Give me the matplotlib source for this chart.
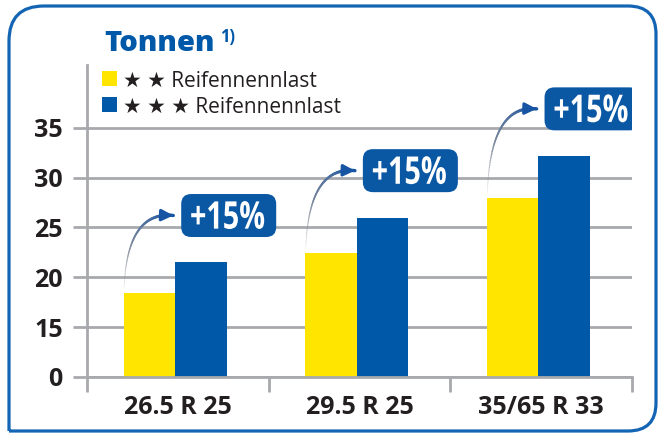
#!/usr/bin/env python
# coding: utf-8
"""
Tragfaehigkeit (Tonnen) zwei Sterne vs. drei Sterne Reifennennlast.
"""
import numpy as np
import matplotlib
matplotlib.use('Agg')
from matplotlib import pyplot as plt
from matplotlib.collections import LineCollection
from matplotlib.path import Path
from matplotlib.patches import PathPatch, Rectangle, FancyBboxPatch
from matplotlib.textpath import TextPath
from matplotlib.font_manager import FontProperties
from matplotlib.transforms import Affine2D, ScaledTranslation


# data
sizes = ['26.5 R 25', '29.5 R 25', '35/65 R 33']
two_star = [18.4, 22.4, 28.0]
three_star = [21.5, 26.0, 32.2]
gain_labels = ['+15%', '+15%', '+15%']
y_ticks = [10, 15, 20, 25, 30, 35]
y_tick_labels = ['0', '15', '20', '25', '30', '35']
legend_labels = ['\u2605 \u2605 Reifennennlast', '\u2605 \u2605 \u2605 Reifennennlast']

YELLOW = '#ffe500'
BLUE = '#0059a8'
BOX_BLUE = '#0a57a4'
GRID = '#a7a9ac'
DARK = '#231f20'
FONT = ['Open Sans', 'DejaVu Sans']

W, H = 658, 438


def curved_arrow(ax, x0, y0, xc, yc, x1, y1):
    """ Tapered arrow going from gray to blue along a quadratic bezier. """
    t = np.linspace(0, 1, 60)
    bx = (1 - t)**2 * x0 + 2 * (1 - t) * t * xc + t**2 * x1
    by = (1 - t)**2 * y0 + 2 * (1 - t) * t * yc + t**2 * y1
    pts = np.column_stack([bx, by])
    segs = np.stack([pts[:-1], pts[1:]], axis=1)
    s = np.linspace(0, 1, len(segs))
    gray = np.array([0.55, 0.56, 0.60])
    blue = np.array([0.09, 0.33, 0.64])
    mix = (s ** 1.6)[:, None]
    rgb = gray * (1 - mix) + blue * mix
    alpha = np.clip(0.15 + s * 2.2, 0, 1)[:, None]
    lc = LineCollection(segs, colors=np.hstack([rgb, alpha]),
                        linewidths=np.linspace(0.5, 2.4, len(segs)),
                        capstyle='round', zorder=4)
    ax.add_collection(lc)
    ax.annotate('', xy=(x1, y1), xytext=(bx[-6], by[-6]),
                arrowprops=dict(arrowstyle='-|>', color=blue, lw=2.2,
                                mutation_scale=17, shrinkA=0, shrinkB=0),
                zorder=5)


def gain_box(ax, x, y, txt, w=95, h=43, tw=73, th=28):
    """ Rounded blue box with narrow white text, sized in pixels around a data point. """
    anchor = ScaledTranslation(x, y, ax.transData)
    box = FancyBboxPatch((-w / 2, -h / 2), w, h,
                         boxstyle='round,pad=0,rounding_size=10',
                         facecolor=BOX_BLUE, edgecolor='none',
                         transform=Affine2D() + anchor, zorder=6)
    ax.add_patch(box)
    tp = TextPath((0, 0), txt, size=40, prop=FontProperties(family='Open Sans', weight='bold'))
    ext = tp.get_extents()
    sx, sy = tw / ext.width, th / ext.height
    tr = (Affine2D().translate(-ext.x0 - ext.width / 2, -ext.y0 - ext.height / 2)
          .scale(sx, sy).translate(-1, 0.5) + anchor)
    ax.add_patch(PathPatch(tp, facecolor='white', edgecolor='none',
                           transform=tr, zorder=7))


fig = plt.figure(figsize=(W / 100, H / 100), dpi=100)

# overlay in pixel coordinates for frame, title and legend
bg = fig.add_axes([0, 0, 1, 1], zorder=0)
bg.set_xlim(0, W)
bg.set_ylim(H, 0)
bg.axis('off')

# rounded frame (bottom left corner square)
l, t_, r, b = 9, 6, 656, 431
r1, r2 = 35, 28
verts = [(l, b), (l, t_ + r1), (l, t_), (l + r1, t_),
         (r - r2, t_), (r, t_), (r, t_ + r2),
         (r, b - r2), (r, b), (r - r2, b),
         (l, b)]
codes = [Path.MOVETO, Path.LINETO, Path.CURVE3, Path.CURVE3,
         Path.LINETO, Path.CURVE3, Path.CURVE3,
         Path.LINETO, Path.CURVE3, Path.CURVE3,
         Path.LINETO]
bg.add_patch(PathPatch(Path(verts, codes), facecolor='none', edgecolor='#1464b4', lw=2.3))

# title
bg.text(104, 51, 'Tonnen', color=BLUE, fontsize=21, fontweight='heavy',
        family=FONT, ha='left', va='baseline')
bg.text(220, 42, '1)', color=BLUE, fontsize=12, fontweight='bold',
        family=FONT, ha='left', va='baseline')

# legend
for i, (lab, col) in enumerate(zip(legend_labels, [YELLOW, BLUE])):
    y = 71 + i * 26
    bg.add_patch(Rectangle((102, y), 15, 15, facecolor=col, edgecolor='none'))
    bg.text(123, y + 15.5, lab, color=DARK, fontsize=15, family=FONT,
            ha='left', va='baseline')

ax = fig.add_axes([87 / W, (H - 377) / H, 545 / W, (377 - 65) / H], zorder=1)
ax.patch.set_alpha(0)

x = np.arange(len(sizes))
bw = 0.284
off = -0.015
ax.bar(x + off - bw / 2, two_star, bw, color=YELLOW, zorder=2)
ax.bar(x + off + bw / 2, three_star, bw, color=BLUE, zorder=2)

ax.set_xlim(-0.5, len(sizes) - 0.5)
ax.set_ylim(10, 41.3)
ax.set_axisbelow(True)

ax.set_yticks(y_ticks)
ax.set_yticklabels(y_tick_labels)
ax.yaxis.grid(True, color=GRID, lw=2)
ax.tick_params(axis='y', length=10, width=2, color=GRID, pad=7.5,
               labelsize=18, labelcolor=DARK)
for lab in ax.get_yticklabels():
    lab.set_fontweight('bold')
    lab.set_family(FONT)

ax.set_xticks(x)
ax.set_xticklabels(sizes)
ax.set_xticks(np.arange(len(sizes) + 1) - 0.5, minor=True)
ax.tick_params(axis='x', which='major', length=0, pad=13,
               labelsize=18, labelcolor=DARK)
ax.tick_params(axis='x', which='minor', length=11, width=2, color=GRID)
for lab in ax.get_xticklabels():
    lab.set_fontweight('bold')
    lab.set_family(FONT)

for side in ['top', 'right']:
    ax.spines[side].set_visible(False)
for side in ['left', 'bottom']:
    ax.spines[side].set_color(GRID)
    ax.spines[side].set_linewidth(2)

# +15% boxes and arrows
for i, (lo, hi, txt) in enumerate(zip(two_star, three_star, gain_labels)):
    bx, by = x[i] + 0.28, hi + 4.7
    gain_box(ax, bx, by, txt)
    x0 = x[i] + off - bw + 0.003
    x1 = bx - 0.305
    curved_arrow(ax, x0, lo + 0.5, x0 + 0.017, by + 0.5, x1, by)

plt.savefig('out.png', dpi=100)
